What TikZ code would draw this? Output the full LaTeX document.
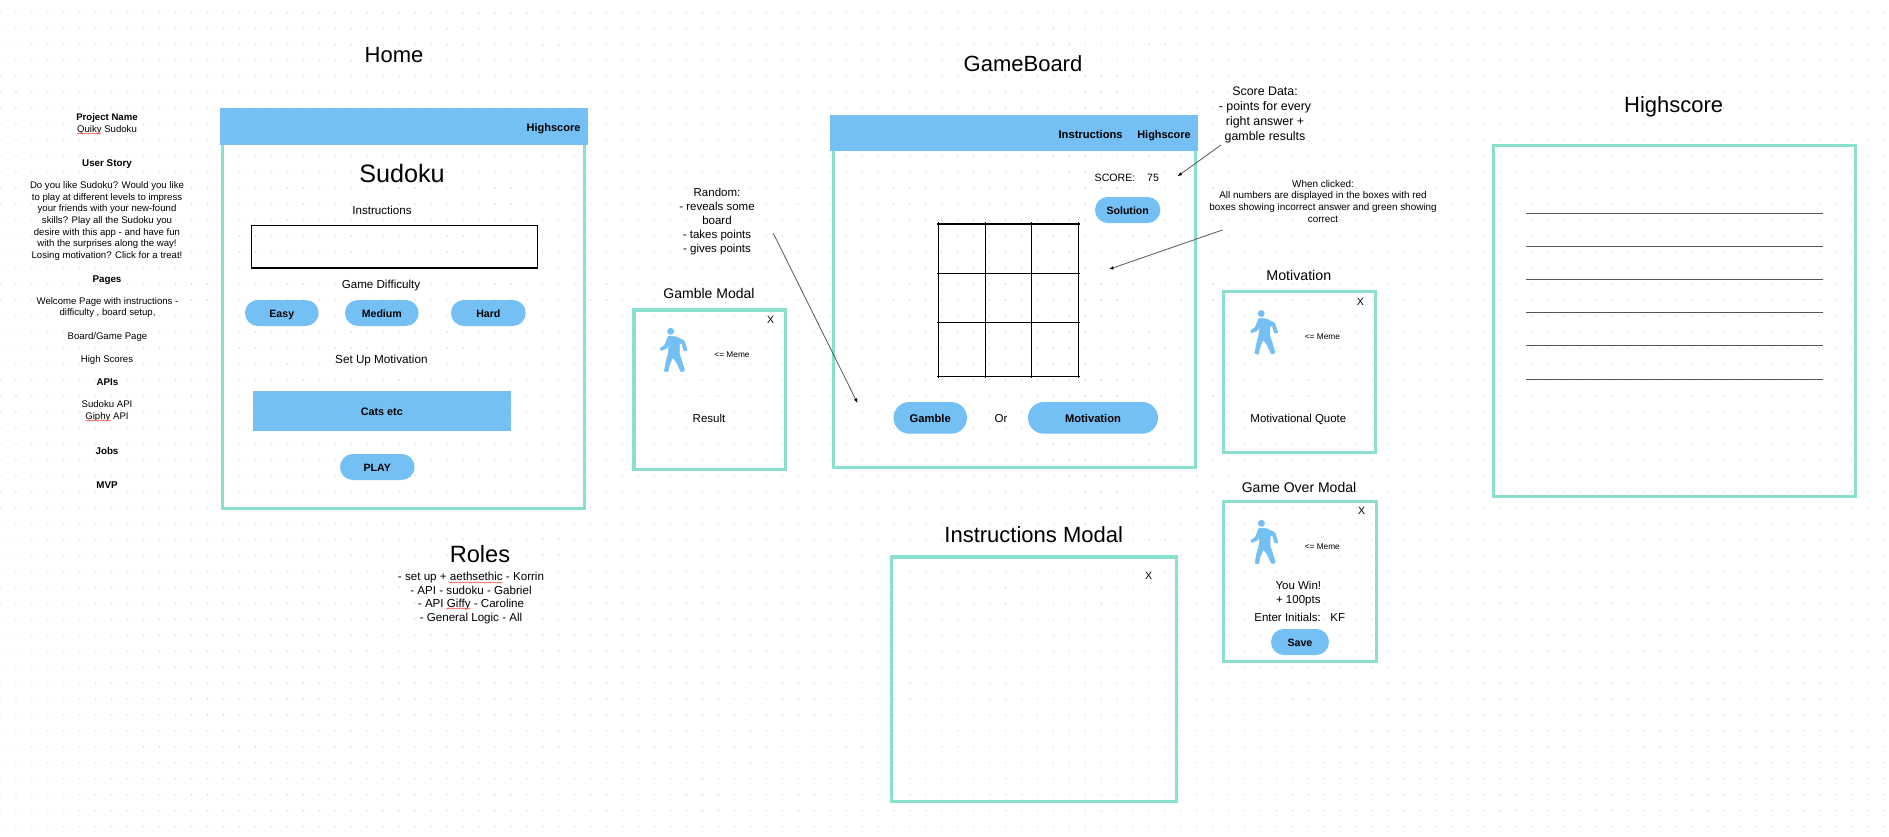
\documentclass[tikz,border=0pt]{standalone}
\usepackage{fontspec}
\setmainfont{Liberation Sans}
\usetikzlibrary{arrows.meta,decorations.pathmorphing}
\definecolor{hdr}{HTML}{74C0F4}
\definecolor{teal2}{HTML}{88E0CD}
\definecolor{dotc}{HTML}{D9D9D9}
\definecolor{linec}{HTML}{555555}
\tikzset{
  ft/.style={font=\fontsize{#1}{#1}\selectfont,text height=0.82*#1 pt,text depth=0pt,inner sep=0pt,outer sep=0pt},
  fb/.style={font=\fontsize{#1}{#1}\selectfont\bfseries,text height=0.82*#1 pt,text depth=0pt,inner sep=0pt,outer sep=0pt},
  para/.style n args={2}{font=\fontsize{#1}{#2}\selectfont,align=center,inner sep=0pt,outer sep=0pt},
  frame/.style={draw=teal2,line width=3.2pt},
  bar/.style={fill=hdr},
  pill/.style={fill=hdr,rounded corners=#1},
  blackbox/.style={draw=black,line width=1.3pt},
  note/.style={draw=linec,line width=0.8pt,-{Latex[black,length=4.5pt,width=3.5pt]}},
  grid line/.style={draw=black,line width=1.2pt},
  score line/.style={draw=linec,line width=0.9pt},
  squiggle/.style={draw=red!65,line width=0.45pt,decorate,decoration={snake,segment length=1.9pt,amplitude=0.5pt}},
  walker/.pic={
    \fill[hdr] (670.7,331.3) circle (3.5);
    \filldraw[hdr,line width=0.5pt,line join=round,rounded corners=0.8pt] (668.3,336) -- (676,336.7) -- (684.3,340.7) -- (687.3,350.7) -- (684,351) -- (681.7,343.3) -- (679.3,344) -- (679.3,353.3) -- (681.7,360.7) -- (684.7,370.7) -- (681,372) -- (676.7,362.7) -- (672.7,357.3) -- (669.3,365) -- (668,372) -- (664.3,371.3) -- (666,361.7) -- (668.3,353.3) -- (669,344.3) -- (666.7,348.3) -- (660.7,350.7) -- (660,348.3) -- (664.7,345.3) -- cycle;
  }
}
\newcommand{\rectnode}[7]{%
  \pgfmathsetmacro\rw{#5-#3}\pgfmathsetmacro\rh{#6-#4}%
  \pgfmathsetmacro\rcx{(#3+#5)/2}\pgfmathsetmacro\rcy{(#4+#6)/2}%
  \node[#2,minimum width=\rw pt,minimum height=\rh pt,inner sep=0pt,outer sep=0pt] (#1) at (\rcx,\rcy) {#7};}
\begin{document}
\begin{tikzpicture}[x=1pt,y=-1pt]
\useasboundingbox (0,0) rectangle (1889,836);
\fill[white] (0,0) rectangle (1889,836);
\foreach \i in {0,...,118}{\foreach \j in {0,...,51}{
  \fill[dotc] ({\i*15.96},{12.7+\j*15.96}) circle (0.8);
}}

% left column
\node[para={9.6}{12}] (project) at (107,124) {\textbf{Project Name}\\Quiky Sudoku};
\node[fb=9.8] (story) at (107,162.7) {User Story};
\node[para={9.6}{11.55}] (storytext) at (107,221) {Do you like Sudoku? Would you like\\to play at different levels to impress\\your friends with your new-found\\skills? Play all the Sudoku you\\desire with this app - and have fun\\with the surprises along the way!\\Losing motivation? Click for a treat!};
\node[fb=9.8] (pages) at (107,278) {Pages};
\node[para={9.6}{11.9}] (welcome) at (107.5,307.5) {Welcome Page with instructions -\\difficulty , board setup,};
\node[ft=9.6] (board) at (107.5,335.7) {Board/Game Page};
\node[ft=9.6] (high) at (107,358.7) {High Scores};
\node[fb=9.8] (apis) at (107.5,381.7) {APIs};
\node[para={9.6}{11.4}] (apilist) at (107,411) {Sudoku API\\Giphy API};
\node[fb=9.8] (jobs) at (107,450.7) {Jobs};
\node[fb=9.8] (mvp) at (107,484.3) {MVP};
\coordinate (qa) at (77,133.5); \coordinate (qb) at (101,133.5);
\draw[squiggle] (qa) -- (qb);
\coordinate (ga) at (86,420.5); \coordinate (gb) at (111,420.5);
\draw[squiggle] (ga) -- (gb);

% Home
\node[ft=22] (hometitle) at (394,53.5) {Home};
\rectnode{homeframe}{frame}{222.5}{115}{584.5}{508.3}{}
\rectnode{homebar}{bar}{220}{108}{588}{145}{}
\node[fb=11] (homehs) at (553.5,127) {Highscore};
\node[ft=25.2] (sudoku) at (402,172.5) {Sudoku};
\node[ft=11.6] (instr) at (382,210) {Instructions};
\rectnode{instrbox}{blackbox}{251.4}{225.3}{537.5}{268}{}
\node[ft=11.6] (diff) at (381,284) {Game Difficulty};
\rectnode{easy}{pill=12.9pt,fb=10.6}{245}{300}{318.6}{326}{Easy}
\rectnode{medium}{pill=12.9pt,fb=10.6}{345}{300}{418.6}{326}{Medium}
\rectnode{hard}{pill=12.9pt,fb=10.6}{451}{300}{525.7}{326}{Hard}
\node[ft=11.7] (setup) at (381.4,359) {Set Up Motivation};
\rectnode{cats}{bar,fb=10.8}{253}{391}{510.7}{431}{Cats etc}
\rectnode{play}{pill=12.9pt,fb=10.6}{340}{454}{414.6}{480}{PLAY}

% Roles
\node[ft=23.6] (roles) at (480,552.7) {Roles};
\node[para={11.6}{13.7}] (rolelist) at (471,598) {- set up + aethsethic - Korrin\\- API - sudoku - Gabriel\\- API Giffy - Caroline\\- General Logic - All};
\coordinate (aa) at (449,582.5); \coordinate (ab) at (503,582.5);
\draw[squiggle] (aa) -- (ab);
\coordinate (ba) at (446,608.5); \coordinate (bb) at (470.7,608.5);
\draw[squiggle] (ba) -- (bb);

% Gamble modal
\node[para={11.5}{14}] (random) at (717,221.5) {Random:\\- reveals some\\board\\- takes points\\- gives points};
\node[ft=14] (gambletitle) at (709,293) {Gamble Modal};
\rectnode{gambleframe}{frame}{633.9}{309.9}{785.1}{469.1}{}
\node[ft=10.6] (gamblex) at (770.7,319.3) {X};
\pic {walker};
\node[ft=8.3] (gamblememe) at (732,354.3) {<= Meme};
\node[ft=11.5] (result) at (709,417.7) {Result};

% GameBoard
\node[ft=22] (gbtitle) at (1023,62) {GameBoard};
\rectnode{gbframe}{frame}{833.5}{120}{1195.5}{467.1}{}
\rectnode{gbbar}{bar}{830}{115}{1198}{151}{}
\node[fb=11.2] (gbinstr) at (1090.6,134) {Instructions};
\node[fb=10.9] (gbhs) at (1164,134) {Highscore};
\node[ft=10.6] (score) at (1115,177) {SCORE:};
\node[ft=10.6] (scoreval) at (1153,177) {75};
\rectnode{solution}{pill=12.9pt,fb=10.6}{1095}{197}{1160.4}{223}{Solution}
\foreach \x in {938.4,985.7,1031.4,1078.8}{\draw[grid line] (\x,222.3) -- (\x,377.5);}
\foreach \y in {224,273.3,322.3,376.3}{\draw[grid line] (937,\y) -- (1080.4,\y);}
\rectnode{gamblebtn}{pill=15.8pt,fb=11.2}{893.5}{402}{967}{433.7}{Gamble}
\node[ft=11.5] (orlabel) at (1001,418) {Or};
\rectnode{motbtn}{pill=15.8pt,fb=11.2}{1028}{402}{1158}{433.7}{Motivation}

% Notes
\node[para={12.4}{14.9}] (scoredata) at (1265,115) {Score Data:\\- points for every\\right answer +\\gamble results};
\node[para={9.9}{11.8}] (clicked) at (1323,201.3) {When clicked:\\All numbers are displayed in the boxes with red\\boxes showing incorrect answer and green showing\\correct};
\coordinate (scorefrom) at (1221,145); \coordinate (scoreto) at (1177.5,176.3);
\draw[note] (scorefrom) -- (scoreto);
\coordinate (clickfrom) at (1222.4,230); \coordinate (clickto) at (1109,269.3);
\draw[note] (clickfrom) -- (clickto);
\coordinate (randfrom) at (773.3,233.3); \coordinate (randto) at (857.5,403);
\draw[note] (randfrom) -- (randto);

% Motivation modal
\node[ft=14.2] (mottitle) at (1298.8,275) {Motivation};
\rectnode{motframe}{frame}{1223.6}{291.6}{1375.4}{452.1}{}
\node[ft=10.6] (motx) at (1360.4,301) {X};
\pic at (590.5,-17.7) {walker};
\node[ft=8.3] (motmeme) at (1322.4,336.3) {<= Meme};
\node[ft=11.5] (quote) at (1298.4,418) {Motivational Quote};

% Game over modal
\node[ft=14] (overtitle) at (1299,486.7) {Game Over Modal};
\rectnode{overframe}{frame}{1223.6}{501.6}{1376.4}{661.1}{}
\node[ft=10.6] (overx) at (1361.7,510.3) {X};
\pic at (590.7,192) {walker};
\node[ft=8.3] (overmeme) at (1322.3,546.3) {<= Meme};
\node[para={11.5}{13.3}] (win) at (1298.3,593.5) {You Win!\\+ 100pts};
\node[ft=11.5] (initials) at (1299.7,617) {Enter Initials:\ \ \ KF};
\rectnode{save}{pill=12.9pt,fb=10.6}{1271}{629}{1329}{655}{Save}

% Instructions modal
\node[ft=22] (imtitle) at (1033.7,533) {Instructions Modal};
\rectnode{imframe}{frame}{891.6}{556.9}{1176.1}{801.4}{}
\node[ft=10.6] (imx) at (1148.7,575.3) {X};

% Highscore
\node[ft=22] (hstitle) at (1673.7,103) {Highscore};
\rectnode{hsframe}{frame}{1493.6}{145.6}{1855.4}{496.4}{}
\foreach \y in {213.3,246.3,279.3,312.3,345.3,379.3}{\draw[score line] (1526,\y) -- (1823,\y);}
\end{tikzpicture}
\end{document}
